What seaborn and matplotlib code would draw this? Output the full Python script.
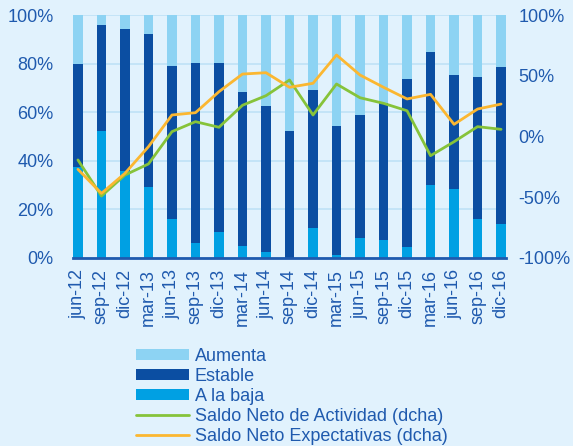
import numpy as np
import pandas as pd
import matplotlib
matplotlib.use("Agg")
import matplotlib.pyplot as plt
from matplotlib.patches import Patch
from matplotlib.lines import Line2D
import seaborn as sns

# ---- data ----
categories = ["jun-12", "sep-12", "dic-12", "mar-13", "jun-13", "sep-13", "dic-13",
              "mar-14", "jun-14", "sep-14", "dic-14", "mar-15", "jun-15", "sep-15",
              "dic-15", "mar-16", "jun-16", "sep-16", "dic-16"]
a_la_baja = [37.6, 52.3, 35.8, 29.1, 16.2, 6.3, 10.8, 5.1, 2.3, 0.0, 12.2, 1.2, 8.4, 7.4,
             4.4, 30.0, 28.5, 16.2, 14.1]
estable = [42.4, 43.6, 58.3, 63.1, 62.8, 73.9, 69.4, 63.3, 60.4, 52.4, 56.8, 53.1, 50.3,
           56.4, 69.3, 54.6, 46.9, 58.4, 64.4]
aumenta = [20.0, 4.1, 5.9, 7.8, 21.0, 19.8, 19.8, 31.6, 37.3, 47.6, 31.0, 45.7, 41.3,
           36.2, 26.3, 15.4, 24.6, 25.4, 21.5]
saldo_actividad = [-19.3, -49.0, -31.7, -22.6, 4.0, 12.2, 7.6, 25.7, 33.6, 46.5, 17.7,
                   43.2, 31.9, 27.3, 21.2, -15.8, -4.3, 8.1, 5.9]
saldo_expectativas = [-27.0, -46.8, -30.3, -8.4, 17.7, 19.6, 36.9, 51.4, 52.5, 40.5, 43.8,
                      67.1, 50.6, 40.5, 30.9, 34.7, 10.0, 22.6, 26.7]
left_ticks = [0, 20, 40, 60, 80, 100]
right_ticks = [-100, -50, 0, 50, 100]

# ---- style ----
BG = "#E1F2FD"
C_AUM = "#8DD3F3"
C_EST = "#0B4EA2"
C_BAJA = "#00A0E3"
C_ACT = "#86C33A"
C_EXP = "#FBB731"
TXT = "#1F5AAE"
GRID = "#BFE2F6"
FONT = "Liberation Sans"
FS = 13

sns.set_theme(style="white")
plt.rcParams["font.family"] = [FONT, "DejaVu Sans"]

df = pd.DataFrame({"cat": categories, "baja": a_la_baja, "estable": estable,
                   "aumenta": aumenta, "act": saldo_actividad, "exp": saldo_expectativas})
df["top_est"] = df["baja"] + df["estable"]
df["top_aum"] = df["top_est"] + df["aumenta"]
df["pos"] = np.arange(len(df))

fig = plt.figure(figsize=(5.73, 4.46), dpi=100, facecolor=BG)
ax = fig.add_axes([73 / 573, 1 - 258 / 446, 433 / 573, 243 / 446])
ax.set_facecolor(BG)

W = 0.42
sns.barplot(data=df, x="cat", y="top_aum", color=C_AUM, width=W, ax=ax,
            saturation=1, linewidth=0, zorder=2)
sns.barplot(data=df, x="cat", y="top_est", color=C_EST, width=W, ax=ax,
            saturation=1, linewidth=0, zorder=2)
sns.barplot(data=df, x="cat", y="baja", color=C_BAJA, width=W, ax=ax,
            saturation=1, linewidth=0, zorder=2)

n = len(categories)
ax.set_xlim(-W / 2, n - 1 + W / 2)
ax.set_ylim(0, 100)
ax.set_yticks(left_ticks)
ax.set_yticklabels([f"{v}%" for v in left_ticks])
ax.yaxis.grid(True, color=GRID, linewidth=1.2, zorder=0)
ax.set_axisbelow(True)
ax.set_xlabel("")
ax.set_ylabel("")
ax.set_xticks(np.arange(n))
ax.set_xticklabels(categories, rotation=90)
ax.set_xticks(np.arange(n) - W / 2, minor=True)
ax.tick_params(axis="x", which="major", length=0, pad=8, labelsize=FS, labelcolor=TXT)
ax.tick_params(axis="x", which="minor", length=4, width=1.5, color=TXT, direction="out")
ax.tick_params(axis="y", length=0, pad=14, labelsize=FS, labelcolor=TXT)
for s in ["left", "right", "top"]:
    ax.spines[s].set_visible(False)
ax.spines["bottom"].set_color(TXT)
ax.spines["bottom"].set_linewidth(2)
ax.spines["bottom"].set_zorder(5)

ax2 = ax.twinx()
sns.lineplot(data=df, x="pos", y="act", color=C_ACT, linewidth=2.0, ax=ax2, zorder=4)
sns.lineplot(data=df, x="pos", y="exp", color=C_EXP, linewidth=2.0, ax=ax2, zorder=4)
ax2.set_ylim(-100, 100)
ax2.set_xlim(-W / 2, n - 1 + W / 2)
ax2.set_yticks(right_ticks)
ax2.set_yticklabels([f"{v}%" for v in right_ticks])
ax2.tick_params(axis="y", length=0, pad=9, labelsize=FS, labelcolor=TXT)
ax2.set_xlabel("")
ax2.set_ylabel("")
for s in ax2.spines.values():
    s.set_visible(False)
ax2.grid(False)

handles = [Patch(facecolor=C_AUM, edgecolor="none"),
           Patch(facecolor=C_EST, edgecolor="none"),
           Patch(facecolor=C_BAJA, edgecolor="none"),
           Line2D([], [], color=C_ACT, linewidth=2),
           Line2D([], [], color=C_EXP, linewidth=2)]
labels = ["Aumenta", "Estable", "A la baja", "Saldo Neto de Actividad (dcha)",
          "Saldo Neto Expectativas (dcha)"]
leg = fig.legend(handles, labels, loc="upper left",
                 bbox_to_anchor=(136 / 573, 1 - 348 / 446), frameon=False,
                 fontsize=FS, handlelength=2.95, handleheight=0.55, handletextpad=0.3,
                 labelspacing=0.16, borderpad=0, borderaxespad=0)
for t in leg.get_texts():
    t.set_color(TXT)

fig.savefig("out.png", dpi=100, facecolor=BG)
